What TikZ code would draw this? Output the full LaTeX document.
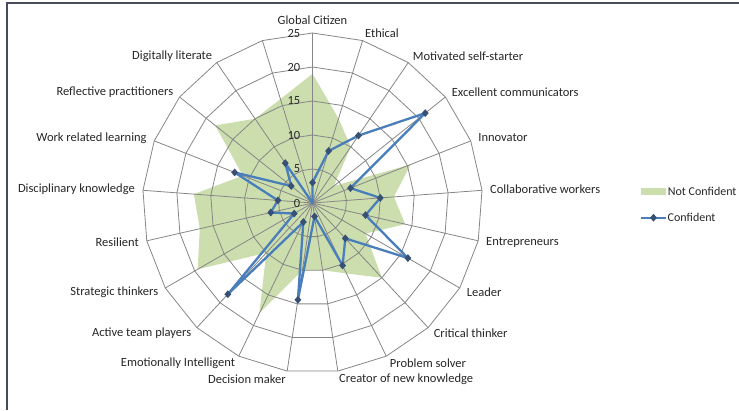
\documentclass[tikz,border=0pt]{standalone}
\usepackage{fontspec}
\setmainfont{Carlito}
\usetikzlibrary{shapes.geometric}
\definecolor{notconffill}{RGB}{204,222,174}
\definecolor{confblue}{RGB}{74,126,187}
\definecolor{confdark}{RGB}{55,80,115}
\definecolor{webgrey}{RGB}{134,134,134}
\definecolor{framegrey}{RGB}{70,76,90}

\begin{document}
\begin{tikzpicture}[x=1pt, y=1pt,
    font=\fontsize{12.5}{14}\selectfont,
    webline/.style={draw=webgrey, line width=.8pt},
    notconfident/.style={fill=notconffill},
    confident/.style={draw=confblue, line width=2.3pt, line join=round},
    confmark/.style={diamond, fill=confdark, inner sep=0pt, minimum width=7pt, minimum height=8pt},
    catlabel/.style={inner sep=0pt, text=black!85},
    ticklabel/.style={inner sep=0pt, anchor=east, text=black!85}]
    \useasboundingbox (-312.5,-207) rectangle (426.5,203);
    % Frame
    \coordinate (Frame-1) at (-305.5,-207);
    \coordinate (Frame-2) at (-305.5,200);
    \coordinate (Frame-3) at (426.5,200);
    \draw[framegrey, line width=1.2pt] (Frame-1) -- (Frame-2) -- (Frame-3);
    % Spoke ends and data points (Not Confident / Confident)
    \coordinate (O) at (0,0);
    \foreach \i/\g/\c in {0/19/3, 1/13/8, 2/10/12, 3/4/21.2, 4/15.5/6, 5/12/10,
                          6/14/8, 7/9/16.2, 8/15/7.1, 9/11.5/10.2, 10/10/2,
                          11/10/14.4, 12/18/3.1, 13/10/18.3, 14/19.5/3.1, 15/17/6.3,
                          16/17.5/5.1, 17/11/12.3, 18/18.3/4, 19/15/7.1, 20/16/0} {
        \pgfmathsetmacro{\a}{90-\i*360/21}
        \coordinate (End-\i) at (\a:170);
        \coordinate (Green-\i) at (\a:{\g*6.8});
        \coordinate (Blue-\i) at (\a:{\c*6.8});
    }
    % Not Confident area
    \fill[notconfident] (Green-0) \foreach \i in {1,...,20} { -- (Green-\i) } -- cycle;
    % Web
    \foreach \v in {5,10,...,25} {
        \draw[webline] (90:{\v*6.8}) \foreach \i in {1,...,20} { -- ({90-\i*360/21}:{\v*6.8}) } -- cycle;
    }
    \foreach \i in {0,...,20} {
        \draw[webline] (O) -- (End-\i);
    }
    % Scale
    \foreach \v in {0,5,...,25} {
        \node[ticklabel] (Tick-\v) at (-12,{\v*6.8}) {\v};
    }
    % Category labels
    \foreach \name/\i in {Global Citizen/0, Ethical/1, Motivated self-starter/2,
                          Excellent communicators/3, Innovator/4, Collaborative workers/5,
                          Entrepreneurs/6, Leader/7, Critical thinker/8, Problem solver/9,
                          Creator of new knowledge/10, Decision maker/11,
                          Emotionally Intelligent/12, Active team players/13,
                          Strategic thinkers/14, Resilient/15, Disciplinary knowledge/16,
                          Work related learning/17, Reflective practitioners/18,
                          Digitally literate/19} {
        \pgfmathsetmacro{\a}{90-\i*360/21}
        \ifnum \i=0
            \def\side{south}
        \else
            \ifnum \i<11 \def\side{west}\else\def\side{east}\fi
        \fi
        \node[catlabel, anchor=\side] (Label-\i) at (\a:178) {\name};
    }
    % Confident line
    \draw[confident] (Blue-0) \foreach \i in {1,...,20} { -- (Blue-\i) } -- cycle;
    \foreach \i in {0,...,19} {
        \node[confmark] (Mark-\i) at (Blue-\i) {};
    }
    % Legend
    \node[notconfident, minimum width=25pt, minimum height=7pt, inner sep=0pt] (Key-1) at (341,11.3) {};
    \node[catlabel, anchor=west, inner sep=1.5pt, font=\fontsize{12}{14}\selectfont] (KeyText-1) at (Key-1.east) {Not Confident};
    \coordinate (Key-2a) at (328.5,-14.7);
    \coordinate (Key-2b) at (353.5,-14.7);
    \draw[confident] (Key-2a) -- (Key-2b);
    \node[confmark] (Key-2) at (341,-14.7) {};
    \node[catlabel, anchor=west, inner sep=1.5pt, font=\fontsize{12}{14}\selectfont] (KeyText-2) at (Key-2b) {Confident};
\end{tikzpicture}
\end{document}
